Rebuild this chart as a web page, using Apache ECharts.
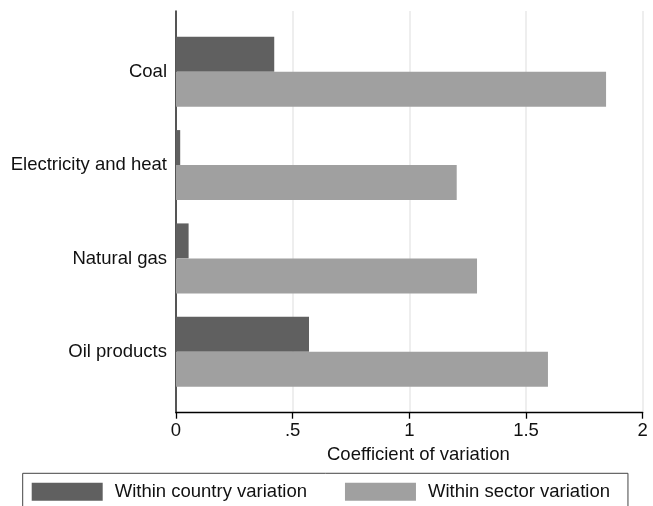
<!DOCTYPE html>
<html>
<head>
<meta charset="utf-8">
<script src="https://cdn.jsdelivr.net/npm/echarts@6/dist/echarts.min.js"></script>
<style>
  html, body { margin: 0; padding: 0; background: #fff; }
  #chart { width: 653px; height: 506px; }
</style>
</head>
<body>
<div id="chart"></div>
<script>
// Coefficient of variation of emission factors by fuel group
const sectors = ['Coal', 'Electricity and heat', 'Natural gas', 'Oil products'];
const withinCountry = [0.421, 0.018, 0.054, 0.570];
const withinSector = [1.843, 1.203, 1.290, 1.594];
const xTickValues = [0, 0.5, 1, 1.5, 2];
const xTickLabels = ['0', '.5', '1', '1.5', '2'];
const seriesNames = ['Within country variation', 'Within sector variation'];

const FONT = 'Liberation Sans, Arial, Helvetica, sans-serif';
const FS = 18.5;
const chart = echarts.init(document.getElementById('chart'), null, { renderer: 'canvas' });

chart.setOption({
  animation: false,
  backgroundColor: '#ffffff',
  textStyle: { fontFamily: FONT },
  grid: [
    // frame: value axis, vertical grid lines and left axis line
    { left: 176, right: 10.3, top: 11, bottom: 93.3, containLabel: false },
    // bars: category bands inset from the frame
    { left: 176, right: 10.3, top: 25.1, bottom: 107.6, containLabel: false }
  ],
  xAxis: [
    {
      gridIndex: 0,
      type: 'value',
      min: 0,
      max: 2,
      interval: 0.5,
      name: 'Coefficient of variation',
      nameLocation: 'middle',
      nameGap: 29,
      nameTextStyle: { fontSize: FS, color: '#111', fontFamily: FONT, padding: [0, 0, 0, 18] },
      axisLine: { show: true, lineStyle: { color: '#000', width: 1.3 } },
      axisTick: { show: true, length: 6, lineStyle: { color: '#000', width: 1.3 } },
      axisLabel: {
        fontSize: FS,
        color: '#111',
        margin: 9,
        fontFamily: FONT,
        formatter: function (v) {
          const i = xTickValues.indexOf(v);
          return i >= 0 ? xTickLabels[i] : '';
        }
      },
      splitLine: { show: true, lineStyle: { color: '#e8e8e8', width: 1.5 } }
    },
    {
      gridIndex: 1,
      type: 'value',
      min: 0,
      max: 2,
      show: false
    }
  ],
  yAxis: [
    {
      gridIndex: 0,
      type: 'value',
      min: 0,
      max: 1,
      axisLine: { show: true, onZero: false, lineStyle: { color: '#222', width: 1.5 } },
      axisTick: { show: false },
      axisLabel: { show: false },
      splitLine: { show: false }
    },
    {
      gridIndex: 1,
      type: 'category',
      data: sectors,
      inverse: true,
      axisLine: { show: false },
      axisTick: { show: false },
      axisLabel: { fontSize: FS, color: '#111', margin: 9, fontFamily: FONT },
      splitLine: { show: false }
    }
  ],
  legend: {
    data: seriesNames,
    left: 22.7,
    top: 473.3,
    orient: 'horizontal',
    icon: 'rect',
    itemWidth: 71,
    itemHeight: 18,
    itemGap: 38,
    padding: [9, 18, 9, 9],
    borderColor: '#444',
    borderWidth: 1,
    textStyle: { fontSize: FS, color: '#111', fontFamily: FONT, lineHeight: 18, padding: [0, 0, 0, 7] }
  },
  series: [
    {
      name: seriesNames[0],
      type: 'bar',
      xAxisIndex: 1,
      yAxisIndex: 1,
      data: withinCountry,
      barWidth: 35,
      barGap: '0%',
      itemStyle: { color: '#606060' }
    },
    {
      name: seriesNames[1],
      type: 'bar',
      xAxisIndex: 1,
      yAxisIndex: 1,
      data: withinSector,
      barWidth: 35,
      barGap: '0%',
      itemStyle: { color: '#a0a0a0' }
    }
  ]
});
</script>
</body>
</html>
